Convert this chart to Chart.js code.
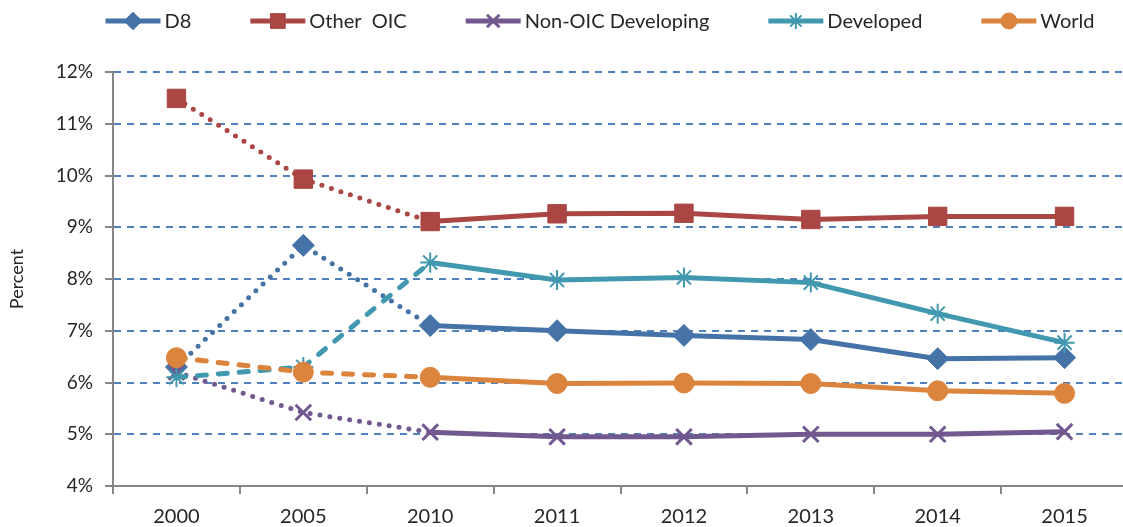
<!DOCTYPE html>
<html>
<head>
<meta charset="utf-8">
<script src="https://cdn.jsdelivr.net/npm/chart.js@4/dist/chart.umd.min.js"></script>
<style>
	html, body { margin: 0; padding: 0; background: #fff; overflow: hidden; }
	#caja { position: relative; width: 1142px; height: 527px; }
</style>
</head>
<body>
<div id="caja"><canvas id="grafica"></canvas></div>
<script>
// Datos (porcentaje)
var anios = ['2000', '2005', '2010', '2011', '2012', '2013', '2014', '2015'];
var d8 = [6.3, 8.65, 7.1, 7.0, 6.91, 6.83, 6.46, 6.48];
var otherOIC = [11.49, 9.93, 9.11, 9.26, 9.27, 9.15, 9.21, 9.21];
var nonOIC = [6.2, 5.42, 5.04, 4.95, 4.95, 5.0, 5.0, 5.05];
var developed = [6.1, 6.3, 8.32, 7.98, 8.03, 7.93, 7.33, 6.77];
var world = [6.48, 6.2, 6.1, 5.98, 5.99, 5.98, 5.84, 5.79];
var ticksY = [4, 5, 6, 7, 8, 9, 10, 11, 12];

var punteado = [0, 10];
var rayado = [9, 12];

// tramo 2000-2010 con otro trazo, el resto continuo
function tramo(dash) {
	return { borderDash: function(ctx) { return ctx.p1DataIndex <= 2 ? dash : []; } };
}

function serie(nombre, datos, color, estilo, radio, borde, dash, orden) {
	return {
		label: nombre,
		data: datos,
		borderColor: color,
		backgroundColor: color,
		pointBackgroundColor: color,
		pointBorderColor: color,
		pointStyle: estilo,
		pointRadius: radio,
		pointHoverRadius: radio,
		pointBorderWidth: borde,
		borderWidth: 5,
		borderCapStyle: 'round',
		tension: 0,
		order: orden,
		segment: tramo(dash)
	};
}

var fuente = 'Lato, "Open Sans", sans-serif';

// leyenda dibujada a mano: linea + marcador + texto
var leyendaPlugin = {
	id: 'leyenda',
	afterDraw: function(chart) {
		var ctx = chart.ctx;
		var sets = chart.data.datasets;
		var largo = 55, sep = 4, hueco = 59, y = 21;
		ctx.save();
		ctx.font = '20px ' + fuente;
		var total = 0;
		for (var i = 0; i < sets.length; i++) {
			total += largo + sep + ctx.measureText(sets[i].label).width;
			if (i < sets.length - 1) total += hueco;
		}
		var x = 600 - total / 2;
		for (var i = 0; i < sets.length; i++) {
			var ds = sets[i];
			ctx.strokeStyle = ds.borderColor;
			ctx.fillStyle = ds.borderColor;
			ctx.lineWidth = 5;
			ctx.lineCap = 'butt';
			ctx.setLineDash([]);
			ctx.beginPath();
			ctx.moveTo(x, y);
			ctx.lineTo(x + largo, y);
			ctx.stroke();
			ctx.lineWidth = ds.pointBorderWidth;
			Chart.helpers.drawPoint(ctx, { pointStyle: ds.pointStyle, rotation: 0, radius: ds.pointRadius * 0.8, borderWidth: ds.pointBorderWidth }, x + largo / 2, y);
			ctx.fillStyle = '#262626';
			ctx.textBaseline = 'middle';
			ctx.textAlign = 'left';
			ctx.fillText(ds.label, x + largo + sep, y + 1);
			x += largo + sep + ctx.measureText(ds.label).width + hueco;
		}
		ctx.restore();
	}
};

var grafica = new Chart(document.getElementById('grafica'), {
	type: 'line',
	data: {
		labels: anios,
		datasets: [
			serie('D8', d8, '#4572A7', 'rectRot', 11, 1, punteado, 4),
			serie('Other  OIC', otherOIC, '#AA4643', 'rect', 13, 1, punteado, 3),
			serie('Non-OIC Developing', nonOIC, '#71588F', 'crossRot', 11, 3, punteado, 2),
			serie('Developed', developed, '#4198AF', 'star', 10, 2, rayado, 1),
			serie('World', world, '#DB843D', 'circle', 10, 1, rayado, 0)
		]
	},
	options: {
		responsive: true,
		maintainAspectRatio: false,
		animation: false,
		layout: { padding: { top: 72, right: 2, left: 0, bottom: 0 } },
		plugins: {
			legend: { display: false },
			tooltip: { enabled: false }
		},
		scales: {
			x: {
				offset: true,
				afterFit: function(s) { s.height = 41; },
				grid: {
					offset: true,
					drawOnChartArea: false,
					color: '#868686',
					tickColor: '#868686',
					tickLength: 8,
					lineWidth: 2
				},
				border: { color: '#868686', width: 2 },
				ticks: { color: '#262626', font: { size: 20, family: fuente }, padding: 11 }
			},
			y: {
				min: 4,
				max: 12,
				afterFit: function(s) { s.width = 113; },
				afterBuildTicks: function(s) { s.ticks = ticksY.map(function(v) { return { value: v }; }); },
				grid: {
					color: function(ctx) { return ctx.tick && ctx.tick.value === 4 ? 'rgba(0,0,0,0)' : '#4F81BD'; },
					tickColor: '#868686',
					tickLength: 8,
					lineWidth: 2
				},
				border: { color: '#868686', width: 2, dash: [7, 6] },
				ticks: {
					color: '#262626',
					font: { size: 19, family: fuente },
					padding: 12,
					callback: function(v) { return v + '%'; }
				},
				title: {
					display: true,
					text: 'Percent',
					color: '#262626',
					font: { size: 18, family: fuente },
					padding: { top: 6, bottom: 0 }
				}
			}
		}
	},
	plugins: [leyendaPlugin]
});
</script>
</body>
</html>
